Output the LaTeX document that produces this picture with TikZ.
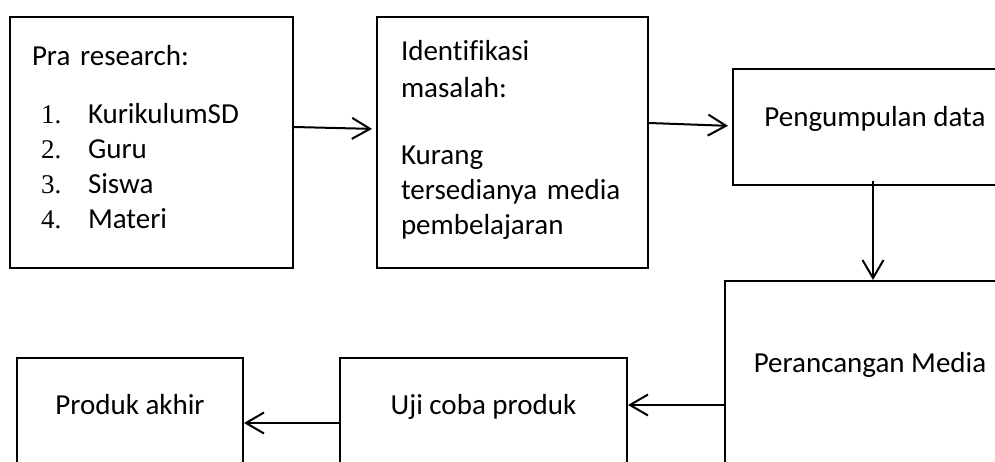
\documentclass[tikz,border=0pt]{standalone}
\usepackage{fontspec}
\setmainfont{Carlito}[Ligatures = NoCommon]
\newfontfamily\numfont{Liberation Serif}
\usetikzlibrary{arrows.meta}
\tikzset{stepbox/.style = {draw, rectangle, line width = 2pt, inner sep = 0pt,
    font = \fontsize{29}{35}\selectfont
    }
}
\tikzset{listbox/.style = {stepbox, align = left, minimum height = 251pt}}
\newcommand{\itemno}[2]{\hspace*{9pt}\makebox[47pt][l]{\numfont\fontsize{27}{35}\selectfont #1}#2}

\begin{document}
\begin{tikzpicture}[x = 1pt, y = 1pt]

    \tikzset{barbarrow/.style = {line width = 2pt, -{Straight Barb[length = 18pt, width = 21pt]}}}

    \useasboundingbox (0,0) rectangle (995,462);
    \clip (0,0) rectangle (995,462);

    % top row
    \node (pra) [listbox, minimum width = 283pt, text width = 239pt] at (151.5,319.5)
        {Pra research:\\[23pt]
        \itemno{1.}{KurikulumSD}\\
        \itemno{2.}{Guru}\\
        \itemno{3.}{Siswa}\\
        \itemno{4.}{Materi}\rule[-11pt]{0pt}{0pt}};

    \node (identifikasi) [listbox, minimum width = 271pt, text width = 223pt] at (512.5,319.5)
        {Identifikasi\\[2pt]
        masalah:\\[32pt]
        Kurang\\
        \mbox{tersedianya media}\\
        pembelajaran\rule[-11pt]{0pt}{0pt}};

    \node (pengumpulan) [stepbox, minimum width = 284pt, text height = 58pt, text depth = 58pt, anchor = base]
        at (875,335) {Pengumpulan data};

    % right column and bottom row
    \node (perancangan) [stepbox, minimum width = 290pt, text height = 92pt, text depth = 120pt, anchor = base]
        at (870,89) {Perancangan Media};

    \node (ujicoba) [stepbox, minimum width = 287pt, text height = 57pt, text depth = 70pt, anchor = base]
        at (483.5,47) {Uji coba produk};

    \node (produk) [stepbox, minimum width = 226pt, text height = 57pt, text depth = 70pt, anchor = base]
        at (130,47) {Produk akhir};

    \draw [barbarrow, shorten > = 4pt] ([yshift = 15.5pt]pra.east) -- ([yshift = 13.5pt]identifikasi.west);
    \draw [barbarrow, shorten > = 4pt] ([yshift = 19.5pt]identifikasi.east) -- ([yshift = 1pt]pengumpulan.west);
    \draw [barbarrow] ([shift = {(-2pt,5pt)}]pengumpulan.south) -- ([xshift = 3pt]perancangan.north);
    \draw [barbarrow] ([yshift = -18pt]perancangan.west) -- ([yshift = -18pt]perancangan.west -| ujicoba.east);
    \draw [barbarrow] ([yshift = -1.5pt]ujicoba.west) -- ([yshift = -1.5pt]ujicoba.west -| produk.east);

\end{tikzpicture}
\end{document}
